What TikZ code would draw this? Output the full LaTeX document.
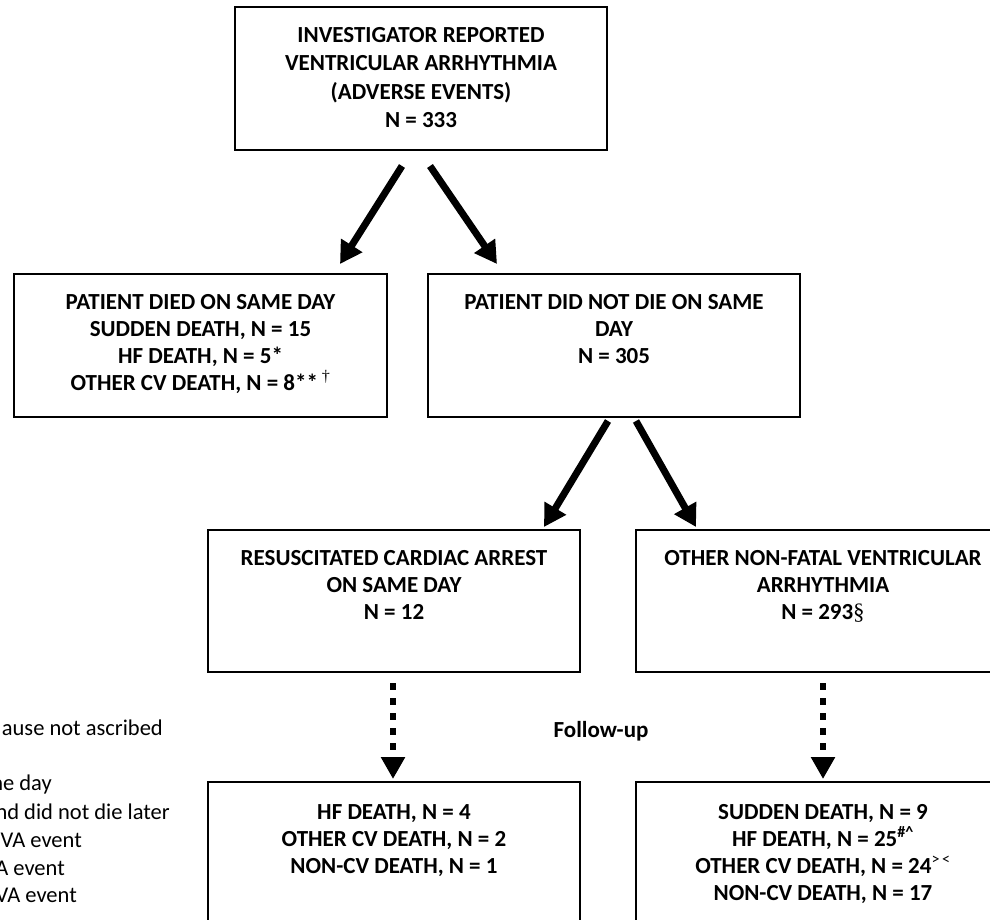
\documentclass[tikz,border=0pt]{standalone}
\usepackage{fontspec}
\setmainfont{Carlito}
\newfontfamily\serifsym{Liberation Serif}
\usetikzlibrary{arrows.meta,calc}
\begin{document}
\begin{tikzpicture}[x=1pt,y=-1pt,
  box/.style={draw=black, line width=1.3pt, inner sep=0pt, minimum width=#1},
  txt/.style={font=\bfseries\fontsize{23}{27}\selectfont, align=center, inner sep=0pt, anchor=north},
  fn/.style={font=\fontsize{22.5}{27}\selectfont, inner sep=0pt, anchor=mid east},
  bigarrow/.style={line width=7pt, -{Triangle[length=22pt,width=24pt]}},
  dotarrow/.style={line width=6.5pt, dash pattern=on 7pt off 8pt, -{Triangle[length=22pt,width=23pt]}}
]
\useasboundingbox (0,0) rectangle (990,920);
\clip (0,0) rectangle (990,920);

% boxes
\node[box=372pt, minimum height=143pt] (top) at (421,78.5) {};
\node[box=373pt, minimum height=143pt] (died) at (200.5,345.5) {};
\node[box=372pt, minimum height=143pt] (alive) at (614,345.5) {};
\node[box=372pt, minimum height=142pt] (resus) at (394,601) {};
\node[box=374pt, minimum height=142pt] (other) at (823,601) {};
\node[box=372pt, minimum height=200pt] (fuleft) at (394,882) {};
\node[box=374pt, minimum height=200pt] (furight) at (823,882) {};

% texts
\node[txt, font=\bfseries\fontsize{23}{28.5}\selectfont] (toptxt) at ($(top.north)+(0,20.6)$)
  {INVESTIGATOR REPORTED\\VENTRICULAR ARRHYTHMIA\\(ADVERSE EVENTS)\\N = 333};
\node[txt] (diedtxt) at ($(died.north)+(0,20.6)$)
  {PATIENT DIED ON SAME DAY\\SUDDEN DEATH, N = 15\\HF DEATH, N = 5*\\OTHER CV DEATH, N = 8**\,\textsuperscript{\mdseries\serifsym †}};
\node[txt] (alivetxt) at ($(alive.north)+(0,20.6)$)
  {PATIENT DID NOT DIE ON SAME\\DAY\\N = 305};
\node[txt] (resustxt) at ($(resus.north)+(0,20.6)$)
  {RESUSCITATED CARDIAC ARREST\\ON SAME DAY\\N = 12};
\node[txt] (othertxt) at ($(other.north)+(0,20.6)$)
  {OTHER NON-FATAL VENTRICULAR\\ARRHYTHMIA\\N = 293{\mdseries\serifsym §}};
\node[txt] (fulefttxt) at ($(fuleft.north)+(0,22.6)$)
  {HF DEATH, N = 4\\OTHER CV DEATH, N = 2\\NON-CV DEATH, N = 1};
\node[txt] (furighttxt) at ($(furight.north)+(0,22.6)$)
  {SUDDEN DEATH, N = 9\\HF DEATH, N = 25\textsuperscript{\#\^{}}\\OTHER CV DEATH, N = 24\textsuperscript{\mdseries >\,<}\\NON-CV DEATH, N = 17};

\node[txt, anchor=mid] (follow) at (601,735) {Follow-up};

% footnotes (cut off at the left edge)
\node[fn] (f1) at (163,733) {ause not ascribed};
\node[fn] (f2) at (52,788) {ne day};
\node[fn] (f3) at (170,817) {nd did not die later};
\node[fn] (f4) at (82,845) {VA event};
\node[fn] (f5) at (65,873) {A event};
\node[fn] (f6) at (77,900) {VA event};

% arrows
\coordinate (a1s) at (402,166); \coordinate (a1e) at (340,264);
\coordinate (a2s) at (430,166); \coordinate (a2e) at (497,264);
\coordinate (a3s) at (608,421); \coordinate (a3e) at (544,527);
\coordinate (a4s) at (636,421); \coordinate (a4e) at (696,527);
\draw[bigarrow] (a1s) -- (a1e);
\draw[bigarrow] (a2s) -- (a2e);
\draw[bigarrow] (a3s) -- (a3e);
\draw[bigarrow] (a4s) -- (a4e);

\coordinate (d1s) at (393,683); \coordinate (d1e) at (393,779);
\coordinate (d2s) at (823,683); \coordinate (d2e) at (823,779);
\draw[dotarrow] (d1s) -- (d1e);
\draw[dotarrow] (d2s) -- (d2e);
\end{tikzpicture}
\end{document}
